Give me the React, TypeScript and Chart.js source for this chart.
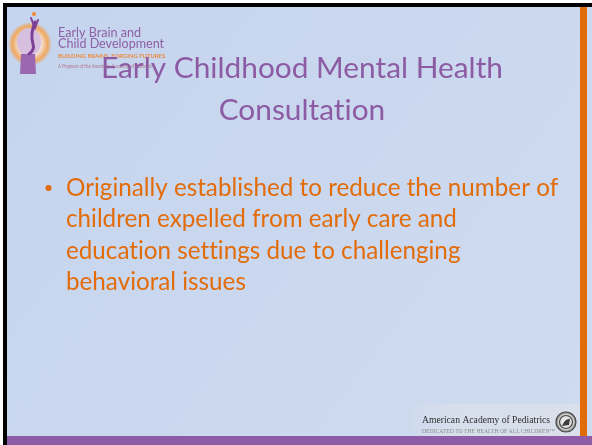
import React, { useEffect, useRef } from "react";
import { Chart, registerables } from "chart.js";
Chart.register(...registerables);

const titleLines: string[] = ["Early Childhood Mental Health", "Consultation"];
const bulletLines: string[] = [
  "Originally established to reduce the number of",
  "children expelled from early care and",
  "education settings due to challenging",
  "behavioral issues",
];
const logoLines: string[] = ["Early Brain and", "Child Development"];
const logoTagline = "BUILDING BRAINS, FORGING FUTURES";
const logoProgram = "A Program of the American Academy of Pediatrics";
const footerName = "American Academy of Pediatrics";
const footerMotto = "DEDICATED TO THE HEALTH OF ALL CHILDREN\u2122";

const W = 592;
const H = 445;
const PURPLE = "#8c5ba3";
const ORANGE = "#e36c0a";
const SPACING = "0.01px";

function fitSize(text: string, family: string, weight: string, target: number): number {
  const c = document.createElement("canvas").getContext("2d")! as any;
  c.letterSpacing = SPACING;
  c.font = `${weight} 100px ${family}`;
  const w = c.measureText(text).width || 1;
  return (100 * target) / w;
}

function drawLogo(ctx: CanvasRenderingContext2D) {
  const g = ctx.createRadialGradient(30, 44, 2, 30, 44, 22);
  g.addColorStop(0, "#f3eaf3");
  g.addColorStop(0.5, "#f1dccd");
  g.addColorStop(0.78, "#f0a860");
  g.addColorStop(1, "rgba(240,160,80,0)");
  ctx.fillStyle = g;
  ctx.beginPath();
  ctx.arc(30, 44, 22, 0, Math.PI * 2);
  ctx.fill();
  ctx.fillStyle = "#d7bfe0";
  ctx.beginPath();
  ctx.ellipse(29, 42, 12, 14, 0, 0, Math.PI * 2);
  ctx.fill();
  ctx.fillStyle = "#9a67b0";
  ctx.beginPath();
  ctx.moveTo(21, 54);
  ctx.lineTo(35, 54);
  ctx.lineTo(36, 74);
  ctx.lineTo(20, 74);
  ctx.closePath();
  ctx.fill();
  ctx.strokeStyle = "#7d3f96";
  ctx.lineWidth = 3;
  ctx.lineCap = "round";
  ctx.beginPath();
  ctx.moveTo(35, 22);
  ctx.quadraticCurveTo(30, 34, 33, 44);
  ctx.quadraticCurveTo(35, 50, 29, 54);
  ctx.stroke();
  ctx.lineWidth = 2;
  ctx.beginPath();
  ctx.moveTo(31, 18);
  ctx.lineTo(35, 28);
  ctx.lineTo(38, 20);
  ctx.stroke();
  ctx.fillStyle = "#f08a30";
  ctx.beginPath();
  ctx.arc(34, 14, 2, 0, Math.PI * 2);
  ctx.fill();

  const s1 = fitSize(logoLines[1], "Lato", "normal", 106);
  ctx.fillStyle = "#8d5fa5";
  ctx.font = `normal ${s1}px Lato`;
  ctx.textAlign = "left";
  ctx.textBaseline = "alphabetic";
  ctx.fillText(logoLines[0], 58, 37);
  ctx.fillText(logoLines[1], 58, 47.5);
  const s2 = fitSize(logoTagline, "Lato", "bold", 107);
  ctx.fillStyle = "#ec8a3c";
  ctx.font = `bold ${s2}px Lato`;
  ctx.fillText(logoTagline, 58, 58);
  const s3 = fitSize(logoProgram, "Lato", "normal", 102);
  ctx.fillStyle = "#b07a8c";
  ctx.font = `italic ${s3}px Lato`;
  ctx.fillText(logoProgram, 58, 68);
}

function drawFooter(ctx: CanvasRenderingContext2D) {
  const lg = ctx.createLinearGradient(405, 0, 580, 0);
  lg.addColorStop(0, "rgba(222,226,234,0)");
  lg.addColorStop(0.25, "rgba(222,226,234,0.55)");
  lg.addColorStop(1, "rgba(222,226,234,0.7)");
  ctx.fillStyle = lg;
  ctx.fillRect(405, 404, 175, 32);

  const s = fitSize(footerName, '"Liberation Serif"', "normal", 128);
  ctx.fillStyle = "#2e2e2e";
  ctx.font = `normal ${s}px "Liberation Serif"`;
  ctx.textAlign = "left";
  ctx.textBaseline = "alphabetic";
  ctx.fillText(footerName, 422, 423);
  const s2 = fitSize(footerMotto, '"Liberation Serif"', "normal", 133);
  ctx.fillStyle = "#8a8a8a";
  ctx.font = `normal ${s2}px "Liberation Serif"`;
  ctx.fillText(footerMotto, 422, 433);

  const rg = ctx.createRadialGradient(566, 422, 2, 566, 422, 10);
  rg.addColorStop(0, "#f2f2f2");
  rg.addColorStop(0.7, "#cfcfcf");
  rg.addColorStop(1, "#6a6a6a");
  ctx.fillStyle = rg;
  ctx.beginPath();
  ctx.arc(566, 422, 10, 0, Math.PI * 2);
  ctx.fill();
  ctx.strokeStyle = "#4a4a4a";
  ctx.lineWidth = 1.2;
  ctx.stroke();
  ctx.beginPath();
  ctx.arc(566, 422, 6.5, 0, Math.PI * 2);
  ctx.stroke();
  ctx.fillStyle = "#3e3e3e";
  ctx.beginPath();
  ctx.moveTo(562, 426);
  ctx.quadraticCurveTo(565, 418, 570, 419);
  ctx.lineTo(569, 425);
  ctx.closePath();
  ctx.fill();
}

const slidePlugin = {
  id: "slide",
  beforeDraw(chart: any) {
    const ctx: any = chart.ctx;
    ctx.letterSpacing = SPACING;
    ctx.save();
    ctx.fillStyle = "#ffffff";
    ctx.fillRect(0, 0, W, H);
    const bg = ctx.createLinearGradient(0, 0, W, H);
    bg.addColorStop(0, "#c5d4ee");
    bg.addColorStop(1, "#cfdbef");
    ctx.fillStyle = bg;
    ctx.fillRect(7, 7, W - 7, H - 7);
    ctx.fillStyle = "#000000";
    ctx.fillRect(3, 3, W - 3, 4);
    ctx.fillRect(3, 3, 4, H - 3);
    ctx.fillStyle = ORANGE;
    ctx.fillRect(580, 7, 7, 429);
    ctx.fillStyle = "#8e5ca6";
    ctx.fillRect(7, 436, W - 7, H - 436);

    drawLogo(ctx);
    drawFooter(ctx);

    const bs = fitSize(bulletLines[0], "Lato", "normal", 492);
    ctx.fillStyle = ORANGE;
    ctx.font = `normal ${bs}px Lato`;
    ctx.textAlign = "left";
    ctx.textBaseline = "alphabetic";
    bulletLines.forEach((line, i) => {
      ctx.fillText(line, 66, 196 + i * 31.3);
    });
    ctx.beginPath();
    ctx.arc(48.5, 188, 3, 0, Math.PI * 2);
    ctx.fill();
    ctx.restore();
    ctx.letterSpacing = SPACING;
  },
};

export default function App() {
  const ref = useRef<HTMLCanvasElement | null>(null);
  useEffect(() => {
    if (!ref.current) return;
    const ts = fitSize(titleLines[0], "Lato", "normal", 402);
    const lineH = 42;
    const chart = new Chart(ref.current, {
      type: "bar",
      data: { labels: [], datasets: [] },
      options: {
        animation: false,
        responsive: false,
        devicePixelRatio: 1,
        layout: { padding: { left: 12, right: 0, top: 0, bottom: 0 } },
        scales: { x: { display: false }, y: { display: false } },
        plugins: {
          legend: { display: false },
          tooltip: { enabled: false },
          title: {
            display: true,
            text: titleLines,
            color: PURPLE,
            align: "center",
            font: { family: "Lato", size: ts, weight: "normal", lineHeight: lineH / ts },
            padding: { top: 68.5 - lineH / 2, bottom: 0 },
          },
        },
      },
      plugins: [slidePlugin],
    });
    return () => chart.destroy();
  }, []);
  return (
    <div style={{ position: "absolute", left: 0, top: 0, width: W, height: H }}>
      <canvas ref={ref} width={W} height={H} style={{ display: "block" }} />
    </div>
  );
}
